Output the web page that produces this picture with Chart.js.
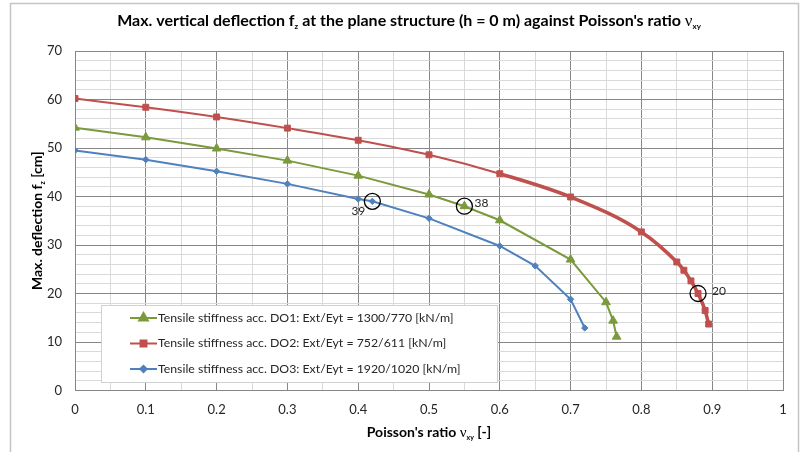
<!DOCTYPE html>
<html>
<head>
<meta charset="utf-8">
<script src="https://cdn.jsdelivr.net/npm/chart.js@4/dist/chart.umd.min.js"></script>
<style>
  html, body { margin: 0; padding: 0; background: #ffffff; }
  canvas { display: block; }
</style>
</head>
<body>
<canvas id="chart" width="802" height="452"></canvas>
<script>
// Poisson's ratio (x) and max. vertical deflection in cm (y) for each stiffness set
const nuDO1 = [0, 0.1, 0.2, 0.3, 0.4, 0.5, 0.55, 0.6, 0.7, 0.75, 0.76, 0.765];
const fzDO1 = [54.2, 52.2, 49.9, 47.4, 44.3, 40.4, 38, 35.1, 27.0, 18.2, 14.4, 11.1];

const nuDO2 = [0, 0.1, 0.2, 0.3, 0.4, 0.5, 0.6, 0.7, 0.8, 0.85, 0.86, 0.87, 0.88, 0.89, 0.895];
const fzDO2 = [60.2, 58.4, 56.4, 54.1, 51.6, 48.6, 44.7, 39.9, 32.7, 26.5, 24.8, 22.6, 20, 16.5, 13.7];

const nuDO3 = [0, 0.1, 0.2, 0.3, 0.4, 0.42, 0.5, 0.6, 0.65, 0.7, 0.72];
const fzDO3 = [49.5, 47.6, 45.2, 42.6, 39.5, 39, 35.5, 29.8, 25.7, 18.8, 12.9];

const seriesNames = [
  'Tensile stiffness acc. DO1: Ext/Eyt = 1300/770 [kN/m]',
  'Tensile stiffness acc. DO2: Ext/Eyt = 752/611 [kN/m]',
  'Tensile stiffness acc. DO3: Ext/Eyt = 1920/1020 [kN/m]'
];

// Highlighted points: [series index, point index]
const markedPoints = [[2, 5], [0, 6], [1, 12]];

const xTickLabels = ['0', '0.1', '0.2', '0.3', '0.4', '0.5', '0.6', '0.7', '0.8', '0.9', '1'];
const yTickLabels = ['0', '10', '20', '30', '40', '50', '60', '70'];

const FONT = 'Lato, "Open Sans", sans-serif';
const SERIF = '"Liberation Serif", "DejaVu Serif", serif';
const TEXT = '#262626';
const MAJOR = '#878787';
const MINOR = '#d9d9d9';

const colors = ['#7A9A3B', '#C0504D', '#4F81BD'];
const shapes = ['triangle', 'rect', 'rectRot'];
const radii = [5, 4.2, 3.2];

function pts(xs, ys) { return xs.map((x, i) => ({ x: x, y: ys[i] })); }

const isMajorX = v => Math.abs(v * 10 - Math.round(v * 10)) < 1e-6;
const isMajorY = v => Math.abs(v / 10 - Math.round(v / 10)) < 1e-6;

// Draw a run of text pieces (with optional subscripts) centred on x
function richWidth(ctx, parts) {
  let w = 0;
  parts.forEach(p => { ctx.font = p.font; w += ctx.measureText(p.t).width; });
  return w;
}
function drawRich(ctx, parts, x, y) {
  const w = richWidth(ctx, parts);
  let cx = x - w / 2;
  ctx.textAlign = 'left';
  ctx.textBaseline = 'alphabetic';
  parts.forEach(p => {
    ctx.font = p.font;
    ctx.fillText(p.t, cx, y + (p.dy || 0));
    cx += ctx.measureText(p.t).width;
  });
}

const decorations = {
  id: 'decorations',
  beforeDraw(chart) {
    const ctx = chart.ctx;
    ctx.save();
    ctx.fillStyle = '#ffffff';
    ctx.fillRect(0, 0, chart.width, chart.height);
    ctx.strokeStyle = '#c4c4c4';
    ctx.lineWidth = 1.5;
    ctx.strokeRect(10.5, 3.5, 788, 470);
    ctx.restore();
  },
  afterDraw(chart) {
    const ctx = chart.ctx;
    const xs = chart.scales.x, ys = chart.scales.y;
    const area = chart.chartArea;
    ctx.save();
    ctx.fillStyle = '#000000';

    // Title
    const tb = 'bold 16px ' + FONT;
    const ts = 'bold 8px ' + FONT;
    drawRich(ctx, [
      { t: 'Max. vertical deflection f', font: tb },
      { t: 'z', font: ts, dy: 3 },
      { t: ' at the plane structure (h = 0 m) against Poisson\'s ratio ', font: tb },
      { t: '\u03BD', font: '17px ' + SERIF },
      { t: 'xy', font: ts, dy: 3 }
    ], 409, 26);

    // X axis title
    const ab = 'bold 14px ' + FONT;
    const as = 'bold 7px ' + FONT;
    drawRich(ctx, [
      { t: 'Poisson\'s ratio ', font: ab },
      { t: '\u03BD', font: '15px ' + SERIF },
      { t: 'xy', font: as, dy: 3 },
      { t: ' [-]', font: ab }
    ], (area.left + area.right) / 2, 437);

    // Y axis title
    ctx.save();
    ctx.translate(42, (area.top + area.bottom) / 2);
    ctx.rotate(-Math.PI / 2);
    drawRich(ctx, [
      { t: 'Max. deflection f', font: ab },
      { t: 'z', font: as, dy: 3 },
      { t: ' [cm]', font: ab }
    ], 0, 0);
    ctx.restore();

    // Circled points with their values
    const offsets = [[-14, 10], [17, -3], [21, -2]];
    markedPoints.forEach((m, k) => {
      const p = chart.data.datasets[m[0]].data[m[1]];
      const px = xs.getPixelForValue(p.x), py = ys.getPixelForValue(p.y);
      ctx.beginPath();
      ctx.arc(px, py, 8, 0, Math.PI * 2);
      ctx.strokeStyle = '#000000';
      ctx.lineWidth = 1.3;
      ctx.stroke();
      ctx.font = '12px ' + FONT;
      ctx.fillStyle = TEXT;
      ctx.textAlign = 'center';
      ctx.textBaseline = 'middle';
      ctx.fillText(String(Math.round(p.y)), px + offsets[k][0], py + offsets[k][1]);
    });

    // Legend box inside the plot
    const bx = 101, by = 305, bw = 396, bh = 77;
    ctx.fillStyle = '#ffffff';
    ctx.fillRect(bx, by, bw, bh);
    ctx.strokeStyle = '#d0d0d0';
    ctx.lineWidth = 1;
    ctx.strokeRect(bx + 0.5, by + 0.5, bw, bh);
    chart.data.datasets.forEach((ds, i) => {
      const ry = 318 + i * 25.5;
      ctx.strokeStyle = ds.borderColor;
      ctx.lineWidth = 2;
      ctx.beginPath();
      ctx.moveTo(130, ry);
      ctx.lineTo(157, ry);
      ctx.stroke();
      ctx.fillStyle = ds.borderColor;
      ctx.strokeStyle = ds.borderColor;
      Chart.helpers.drawPoint(ctx, {
        pointStyle: ds.pointStyle, radius: ds.pointRadius, borderWidth: 1, rotation: 0
      }, 143.5, ry);
      ctx.fillStyle = TEXT;
      ctx.font = '12.3px ' + FONT;
      ctx.textAlign = 'left';
      ctx.textBaseline = 'middle';
      ctx.fillText(ds.label, 158, ry);
    });
    ctx.restore();
  }
};

const allX = [nuDO1, nuDO2, nuDO3];
const allY = [fzDO1, fzDO2, fzDO3];

const datasets = seriesNames.map((name, i) => ({
  label: name,
  data: pts(allX[i], allY[i]),
  showLine: true,
  borderColor: colors[i],
  backgroundColor: colors[i],
  pointStyle: shapes[i],
  pointRadius: radii[i],
  pointHoverRadius: radii[i],
  pointBorderWidth: 1,
  borderWidth: 2,
  cubicInterpolationMode: i === 1 ? 'monotone' : 'default',
  tension: 0,
  segment: i === 1 ? {
    borderWidth: ctx => (ctx.p0.parsed.x >= 0.6 - 1e-9 ? 3.6 : 2)
  } : undefined
}));

new Chart(document.getElementById('chart'), {
  type: 'scatter',
  data: { datasets: datasets },
  options: {
    responsive: false,
    animation: false,
    events: [],
    layout: { padding: { left: 0, right: 19, top: 51, bottom: 0 } },
    plugins: {
      legend: { display: false },
      tooltip: { enabled: false },
      title: { display: false }
    },
    scales: {
      x: {
        type: 'linear',
        min: 0, max: 1,
        afterFit: s => { s.height = 61.5; },
        afterBuildTicks: s => {
          const t = [];
          for (let k = 0; k <= 20; k++) t.push({ value: k / 20 });
          s.ticks = t;
        },
        ticks: {
          autoSkip: false, maxRotation: 0, padding: 12,
          color: TEXT, font: { family: FONT, size: 13 },
          callback: v => (isMajorX(v) ? xTickLabels[Math.round(v * 10)] : '')
        },
        grid: {
          color: c => (c.tick && isMajorX(c.tick.value) ? MAJOR : MINOR),
          lineWidth: 1, drawTicks: false
        },
        border: { display: true, color: MAJOR, width: 1 }
      },
      y: {
        type: 'linear',
        min: 0, max: 70,
        afterFit: s => { s.width = 75; },
        afterBuildTicks: s => {
          const t = [];
          for (let k = 0; k <= 35; k++) t.push({ value: k * 2 });
          s.ticks = t;
        },
        ticks: {
          autoSkip: false, padding: 13,
          color: TEXT, font: { family: FONT, size: 13 },
          callback: v => (isMajorY(v) ? yTickLabels[Math.round(v / 10)] : '')
        },
        grid: {
          color: c => (c.tick && isMajorY(c.tick.value) ? MAJOR : MINOR),
          lineWidth: 1, drawTicks: false
        },
        border: { display: true, color: MAJOR, width: 1 }
      }
    }
  },
  plugins: [decorations]
});
</script>
</body>
</html>
